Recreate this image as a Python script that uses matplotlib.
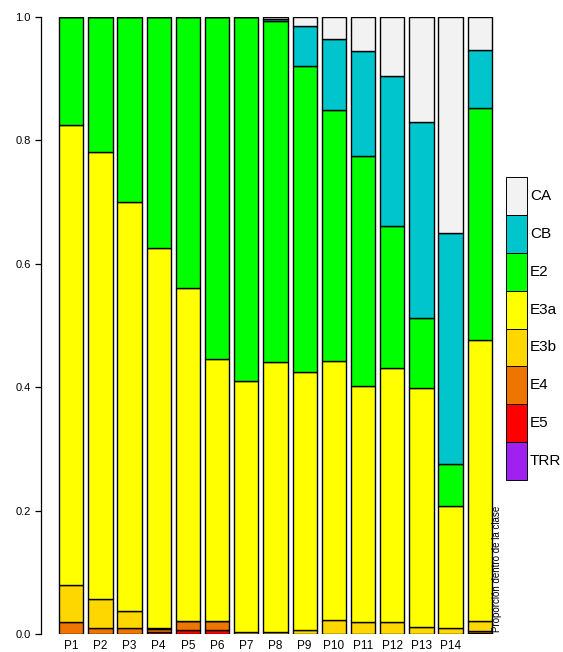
import numpy as np
import matplotlib
matplotlib.use("Agg")
import matplotlib.pyplot as plt

plt.rcParams['font.family'] = ['Liberation Sans', 'DejaVu Sans']

# columnas: P1..P14 y la columna de totales (sin nombre)
parcelas = ['P1', 'P2', 'P3', 'P4', 'P5', 'P6', 'P7', 'P8', 'P9', 'P10',
            'P11', 'P12', 'P13', 'P14', '']

# proporciones por clase, de abajo hacia arriba en la pila
TRR = [0, 0, 0, 0, 0, 0, 0, 0, 0, 0, 0, 0, 0, 0, 0]
E5 = [0, 0, 0, 0.003, 0.0065, 0.0065, 0, 0, 0, 0, 0, 0, 0, 0, 0.0015]
E4 = [0.019, 0.009, 0.009, 0.005, 0.015, 0.015, 0, 0, 0, 0, 0, 0, 0, 0, 0.004]
E3b = [0.061, 0.048, 0.029, 0.002, 0, 0, 0.003, 0.003, 0.007, 0.022,
       0.019, 0.020, 0.012, 0.009, 0.016]
E3a = [0.745, 0.725, 0.662, 0.615, 0.5385, 0.4245, 0.407, 0.438, 0.417,
       0.421, 0.383, 0.411, 0.387, 0.199, 0.4555]
E2 = [0.175, 0.218, 0.300, 0.375, 0.440, 0.554, 0.590, 0.552, 0.496,
      0.407, 0.373, 0.230, 0.113, 0.067, 0.375]
CB = [0, 0, 0, 0, 0, 0, 0, 0.003, 0.065, 0.115, 0.170, 0.244, 0.318,
      0.375, 0.095]
CA = [0, 0, 0, 0, 0, 0, 0, 0.004, 0.015, 0.035, 0.055, 0.095, 0.170,
      0.350, 0.053]

clases = ['TRR', 'E5', 'E4', 'E3b', 'E3a', 'E2', 'CB', 'CA']
valores = [TRR, E5, E4, E3b, E3a, E2, CB, CA]
colores = ['#A020F0', '#FF0000', '#EE7600', '#FFD700', '#FFFF00',
           '#00FF00', '#00C5CD', '#F2F2F2']

W, H = 563, 652
fig = plt.figure(figsize=(W / 100, H / 100), dpi=100)
ax = fig.add_axes([41 / W, (H - 634) / H, (500 - 41) / W, 617 / H])

x = 0.2 + 1.2 * np.arange(len(parcelas)) + 0.5
base = np.zeros(len(parcelas))
for nombre, v, c in zip(clases, valores, colores):
    v = np.array(v)
    ax.bar(x, v, width=1.0, bottom=base, color=c, edgecolor='black',
           linewidth=1.0)
    base += v

ax.set_xlim(-0.54, 18.33)
ax.set_ylim(0, 1)
for s in ['top', 'right', 'bottom']:
    ax.spines[s].set_visible(False)
ax.spines['left'].set_bounds(0, 1)
ax.spines['left'].set_linewidth(0.9)
ax.set_yticks([0, 0.2, 0.4, 0.6, 0.8, 1.0])
ax.set_yticklabels(['0.0', '0.2', '0.4', '0.6', '0.8', '1.0'])
ax.tick_params(axis='y', length=4.5, width=0.9, labelsize=8, pad=3)
ax.set_xticks(x)
ax.set_xticklabels(parcelas)
ax.tick_params(axis='x', length=0, labelsize=8.5, pad=4)

fig.text(497 / W, (H - 632) / H, 'Proporción dentro de la clase',
         rotation=90, ha='center', va='bottom', fontsize=7)

# leyenda: cajas apiladas, CA arriba
lx0, lx1 = 506, 527
ly_top, ly_bot = 177, 480
alto = (ly_bot - ly_top) / len(clases)
for i, (nombre, c) in enumerate(zip(clases[::-1], colores[::-1])):
    y0 = ly_top + i * alto
    fig.patches.append(plt.Rectangle((lx0 / W, (H - y0 - alto) / H),
                                     (lx1 - lx0) / W, alto / H,
                                     transform=fig.transFigure,
                                     facecolor=c, edgecolor='black',
                                     linewidth=0.7))
    fig.text(530 / W, (H - y0 - alto / 2) / H, nombre, ha='left',
             va='center', fontsize=11)

fig.savefig('out.png', dpi=100)
